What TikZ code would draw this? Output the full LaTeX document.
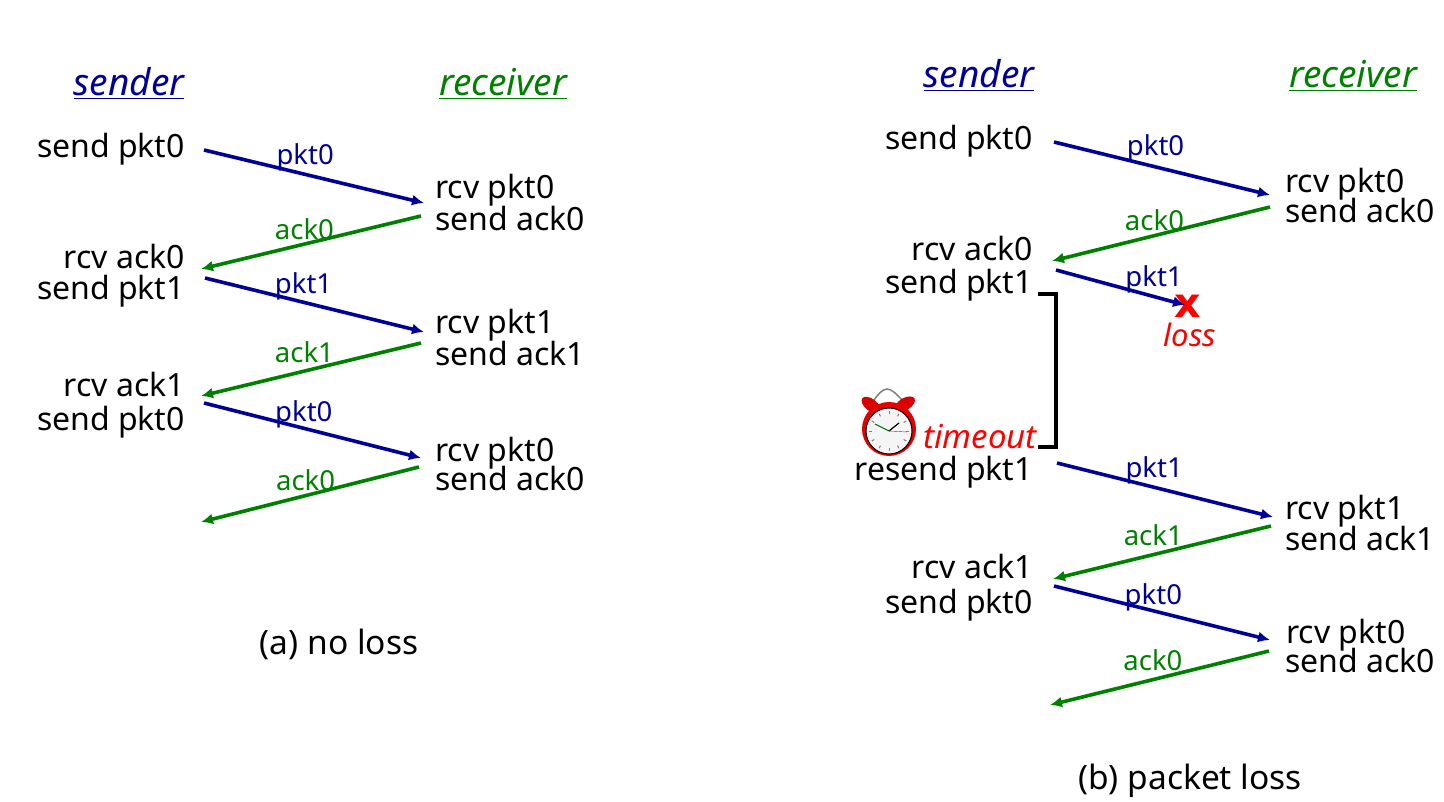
\documentclass[tikz,border=0pt]{standalone}
\usepackage{fontspec}
\setmainfont{Noto Sans}
\newfontfamily\markfont{DejaVu Sans}
\usetikzlibrary{arrows.meta}

\definecolor{pktblue}{RGB}{0,0,153}
\definecolor{ackgreen}{RGB}{0,128,0}

\begin{document}
\begin{tikzpicture}[x=1pt, y=-1pt, inner sep=0pt,
    event/.style = {font=\fontsize{32}{32}\selectfont},
    eventr/.style = {event, anchor=base east},
    eventl/.style = {event, anchor=base west},
    caption/.style = {font=\fontsize{33.5}{33.5}\selectfont},
    title/.style = {font=\fontsize{37}{37}\selectfont\itshape, anchor=base},
    pkt/.style = {draw=pktblue, line width=3.6pt, -{Latex[length=12pt, width=11pt]}},
    ack/.style = {draw=ackgreen, line width=3.6pt, -{Latex[length=12pt, width=11pt]}},
    pktlabel/.style = {text=pktblue, font=\fontsize{27.5}{27.5}\selectfont},
    acklabel/.style = {text=ackgreen, font=\fontsize{27.5}{27.5}\selectfont},
    alert/.style = {text=red, font=\fontsize{31}{31}\selectfont\itshape}]
  \useasboundingbox (0, 0) rectangle (1444, 802);

  % Left: titles.
  \node at (129, 96) [title, text=pktblue, name=SenderA] {\underline{sender}};
  \node at (503, 96) [title, text=ackgreen, name=ReceiverA] {\underline{receiver}};

  % Left: sender events.
  \node at (185, 158) [eventr, name=SendPktA] {send pkt0};
  \node at (185, 269) [eventr, name=RcvAckA] {rcv ack0};
  \node at (185, 300) [eventr, name=SendPktB] {send pkt1};
  \node at (185, 396) [eventr, name=RcvAckB] {rcv ack1};
  \node at (185, 430) [eventr, name=SendPktC] {send pkt0};

  % Left: receiver events.
  \node at (435, 199) [eventl, name=RcvPktA] {rcv pkt0};
  \node at (435, 231) [eventl, name=SendAckA] {send ack0};
  \node at (435, 334) [eventl, name=RcvPktB] {rcv pkt1};
  \node at (435, 366) [eventl, name=SendAckB] {send ack1};
  \node at (435, 461) [eventl, name=RcvPktC] {rcv pkt0};
  \node at (435, 490) [eventl, name=SendAckC] {send ack0};

  \node at (339, 644) [caption, name=CaptionA] {(a) no loss};

  % Left: arrow ends.
  \coordinate (a1) at (204, 150);
  \coordinate (a2) at (424, 203);
  \coordinate (a3) at (421, 216);
  \coordinate (a4) at (201, 269);
  \coordinate (a5) at (205, 278);
  \coordinate (a6) at (424, 332);
  \coordinate (a7) at (421, 343);
  \coordinate (a8) at (201, 396);
  \coordinate (a9) at (204, 403);
  \coordinate (a10) at (421, 458);
  \coordinate (a11) at (419, 467);
  \coordinate (a12) at (201, 522);

  % Left: messages.
  \draw [pkt] (a1) to node [pktlabel, pos=0.46, yshift=17pt] {pkt0} (a2);
  \draw [ack] (a3) to node [acklabel, pos=0.53, yshift=15pt] {ack0} (a4);
  \draw [pkt] (a5) to node [pktlabel, pos=0.45, yshift=16pt] {pkt1} (a6);
  \draw [ack] (a7) to node [acklabel, pos=0.53, yshift=19pt] {ack1} (a8);
  \draw [pkt] (a9) to node [pktlabel, pos=0.46, yshift=14pt] {pkt0} (a10);
  \draw [ack] (a11) to node [acklabel, pos=0.52, yshift=15pt] {ack0} (a12);

  % Right: titles.
  \node at (979, 88) [title, text=pktblue, name=SenderB] {\underline{sender}};
  \node at (1353, 88) [title, text=ackgreen, name=ReceiverB] {\underline{receiver}};

  % Right: sender events.
  \node at (1033, 150) [eventr, name=SendPktD] {send pkt0};
  \node at (1033, 261) [eventr, name=RcvAckD] {rcv ack0};
  \node at (1033, 294) [eventr, name=SendPktE] {send pkt1};
  \node at (1033, 480) [eventr, name=ResendPkt] {resend pkt1};
  \node at (1033, 578) [eventr, name=RcvAckE] {rcv ack1};
  \node at (1033, 613) [eventr, name=SendPktF] {send pkt0};

  % Right: receiver events.
  \node at (1285, 193) [eventl, name=RcvPktD] {rcv pkt0};
  \node at (1285, 223) [eventl, name=SendAckD] {send ack0};
  \node at (1285, 519) [eventl, name=RcvPktE] {rcv pkt1};
  \node at (1285, 550) [eventl, name=SendAckE] {send ack1};
  \node at (1286, 643) [eventl, name=RcvPktF] {rcv pkt0};
  \node at (1285, 672) [eventl, name=SendAckF] {send ack0};

  \node at (1190, 781) [caption, name=CaptionB] {(b) packet loss};

  % Right: loss and timeout.
  \node at (1188, 306) [text=red, font=\fontsize{41}{41}\markfont\bfseries, name=LossMark] {x};
  \node at (1190, 335) [alert, name=Loss] {loss};
  \node at (1037, 449) [alert, font=\fontsize{33}{33}\selectfont\itshape, anchor=base east, name=Timeout] {timeout};

  % Right: arrow ends.
  \coordinate (b1) at (1054, 142);
  \coordinate (b2) at (1270, 195);
  \coordinate (b3) at (1270, 207);
  \coordinate (b4) at (1052, 261);
  \coordinate (b5) at (1056, 270);
  \coordinate (b6) at (1185, 305);
  \coordinate (b7) at (1057, 463);
  \coordinate (b8) at (1273, 517);
  \coordinate (b9) at (1271, 526);
  \coordinate (b10) at (1053, 579);
  \coordinate (b11) at (1054, 586);
  \coordinate (b12) at (1270, 640);
  \coordinate (b13) at (1269, 651);
  \coordinate (b14) at (1050, 705);

  % Right: timer bracket.
  \coordinate (timerstart) at (1038, 294);
  \coordinate (timerend) at (1038, 447);
  \draw [line width=3.6pt] (timerstart) -- (1056, 294) -- (1056, 447) -- (timerend);

  % Right: messages.
  \draw [pkt] (b1) to node [pktlabel, pos=0.47, yshift=19pt] {pkt0} (b2);
  \draw [ack] (b3) to node [acklabel, pos=0.53, yshift=15pt] {ack0} (b4);
  \draw [pkt] (b5) to node [pktlabel, pos=0.76, yshift=17pt] {pkt1} (b6);
  \draw [pkt] (b7) to node [pktlabel, pos=0.45, yshift=17pt] {pkt1} (b8);
  \draw [ack] (b9) to node [acklabel, pos=0.54, yshift=19pt] {ack1} (b10);
  \draw [pkt] (b11) to node [pktlabel, pos=0.46, yshift=13pt] {pkt0} (b12);
  \draw [ack] (b13) to node [acklabel, pos=0.53, yshift=19pt] {ack0} (b14);

  % Alarm clock.
  \draw [line width=1.5pt, gray] (868, 404) to [out=-90, in=180] (887, 389) to [out=0, in=-90] (908, 402);
  \fill [red!85!black, rotate around={-38:(871, 405)}] (871, 405) ellipse (11 and 6);
  \fill [red!85!black, rotate around={30:(905, 404)}] (905, 404) ellipse (11 and 6);
  \fill [red!90!black] (889, 429) circle (27);
  \draw [black, fill=white!92!gray, line width=1pt] (889, 431) circle (23);
  \foreach \tick in {0, 30, ..., 330}
    \draw [gray, line width=1pt] (889, 431) ++(\tick:17) -- ++(\tick:3);
  \draw [line width=1pt, green!40!black] (889, 431) -- (875, 424);
  \draw [line width=1.2pt] (889, 431) -- (899, 423);
  \draw [red] (889, 431) -- (907, 432);
\end{tikzpicture}
\end{document}
